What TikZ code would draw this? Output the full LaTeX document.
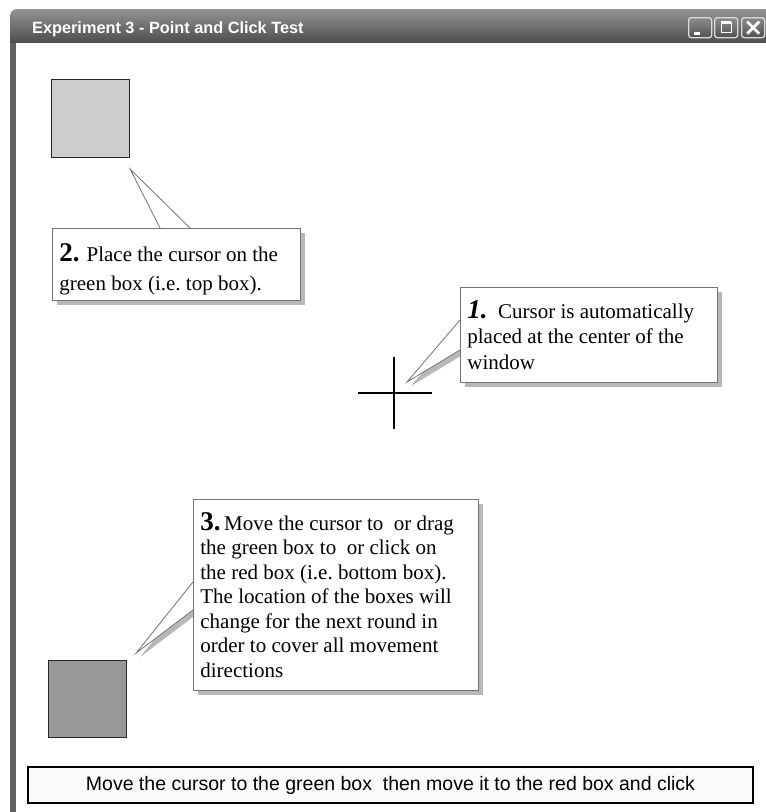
\documentclass[tikz,border=0pt]{standalone}
\usepackage{fontspec}
\setmainfont{Liberation Serif}
\newfontfamily\winfont{Liberation Sans}
\usetikzlibrary{calc,shadows}
\pgfdeclarelayer{back}
\pgfsetlayers{back,main}
\newcommand{\stepnum}[1]{{\fontsize{27}{24}\selectfont\bfseries #1}}
% width, height, first baseline, line distance, text
\newcommand{\callouttext}[5]{\parbox[c][#2pt][t]{#1pt}{\fontsize{21}{#4pt}\selectfont
  \raggedright\rule{0pt}{#3pt}#5}}

\begin{document}
\begin{tikzpicture}[
x=1pt, y=-1pt,
target/.style={
% The shape:
rectangle, anchor=north west,
% The size:
minimum width=78pt, minimum height=78pt,
% The border:
draw=black!85, line width=1.2pt
},
callout/.style={
% The shape:
rectangle, anchor=north west,
inner xsep=7pt, inner ysep=0pt,
% The border:
draw=black!55, line width=0.8pt,
% The filling:
fill=white,
drop shadow={shadow xshift=5pt, shadow yshift=-5pt, fill=black!28, opacity=1}
},
pointer/.style={fill=white, draw=black!55, line width=0.8pt},
pointershadow/.style={fill=black!28},
winbutton/.style={
% The shape:
rectangle, rounded corners=2.5pt, anchor=north west,
% The size:
minimum width=23pt, minimum height=20pt,
% The border:
draw=white!85!black, line width=1.3pt,
% The filling:
top color=black!45, bottom color=black!68
}]
\useasboundingbox (0,0) rectangle (766,812);

% window frame
\begin{pgfonlayer}{back}
\shade[top color=black!42, bottom color=black!70]
  (10,43) [rounded corners=7pt]-- (10,9) [sharp corners]-- (766,9) -- (766,43) -- cycle;
\fill[black!62] (10,43) rectangle (16,812);
\fill[white] (16,43) rectangle (766,812);
\end{pgfonlayer}

\node[anchor=west, inner sep=0pt, text=white, font=\winfont\fontsize{16.3}{18}\selectfont\bfseries]
  (title) at (32,29) {Experiment 3 - Point and Click Test};

% title bar buttons
\node[winbutton] (minbtn) at (688,17) {};
\node[winbutton] (maxbtn) at (714,17) {};
\node[winbutton] (closebtn) at (741,17) {};
\fill[white] ($(minbtn.south west)+(6,-6)$) rectangle ++(6,3);
\draw[white, line width=1.2pt] ($(maxbtn.center)+(-5,-5)$) rectangle ($(maxbtn.center)+(5,5)$);
\draw[white, line width=2.5pt] ($(maxbtn.center)+(-5,-5)$) -- ($(maxbtn.center)+(5,-5)$);
\draw[white, line width=2.8pt] ($(closebtn.center)+(-6,-6)$) -- ($(closebtn.center)+(6,6)$);
\draw[white, line width=2.8pt] ($(closebtn.center)+(-6,6)$) -- ($(closebtn.center)+(6,-6)$);

% boxes and cursor
\node[target, fill=black!20] (greenbox) at (51,79) {};
\node[target, fill=black!40, minimum height=77pt] (redbox) at (48,660) {};
\coordinate (cursor) at (394,393);
\draw[line width=2pt] ($(cursor)+(-36,0)$) -- ($(cursor)+(38,0)$);
\draw[line width=2pt] ($(cursor)+(0,-36)$) -- ($(cursor)+(0,36)$);

% callouts
\node[callout] (steptwo) at (52,228)
  {\callouttext{234}{72}{33}{29}{\stepnum{2.} Place the cursor on the\\green box (i.e.\ top box).}};
\node[callout] (stepone) at (460,287)
  {\callouttext{243}{95}{31}{25.5}{\stepnum{\itshape 1.}\enspace Cursor is automatically\\
  placed at the center of the\\window}};
\node[callout] (stepthree) at (193,499)
  {\callouttext{271}{191}{31}{24.5}{\stepnum{3.}\,Move the cursor to~ or drag\\
  the green box to~ or click on\\the red box (i.e.\ bottom box).\\The location of the boxes will\\
  change for the next round in\\order to cover all movement\\directions}};

\begin{pgfonlayer}{back}
\filldraw[pointer] ($(steptwo.north west)+(108,0)$) -- ($(greenbox.south east)+(0,11)$)
  -- ($(steptwo.north west)+(138,0)$);
\fill[pointershadow] ($(stepone.north west)+(4,37)$) -- ($(cursor)+(17,-7)$)
  -- ($(stepone.north west)+(4,67)$) -- cycle;
\filldraw[pointer] ($(stepone.north west)+(0,33)$) -- ($(cursor)+(13,-11)$)
  -- ($(stepone.north west)+(0,63)$);
\fill[pointershadow] ($(stepthree.north west)+(4,87)$) -- ($(redbox.north east)+(13,-3)$)
  -- ($(stepthree.north west)+(4,115)$) -- cycle;
\filldraw[pointer] ($(stepthree.north west)+(0,83)$) -- ($(redbox.north east)+(9,-7)$)
  -- ($(stepthree.north west)+(0,111)$);
\end{pgfonlayer}

% status line
\node[anchor=north west, draw=black, line width=2pt, fill=black!2,
  minimum width=725pt, minimum height=36pt, font=\winfont\fontsize{19.5}{22}\selectfont]
  (status) at (27,766) {Move the cursor to the green box~ then move it to the red box and click};
\end{tikzpicture}
\end{document}
